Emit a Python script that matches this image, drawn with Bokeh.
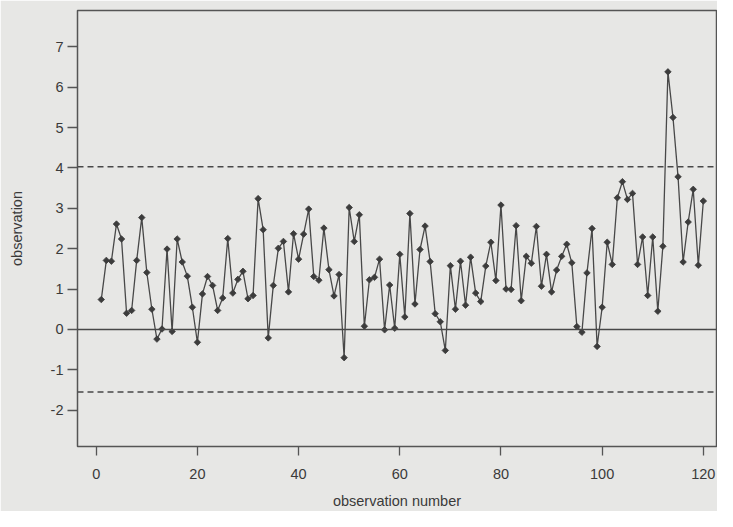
import math
from bokeh.plotting import figure
from bokeh.models import Span, FixedTicker, Range1d
from bokeh.embed import file_html
from bokeh.resources import INLINE

# observation numbers 1..120
obs_number = list(range(1, 121))
observation = [
    0.74, 1.71, 1.69, 2.61, 2.24, 0.40, 0.47, 1.71, 2.77, 1.41,
    0.50, -0.24, 0.01, 1.99, -0.05, 2.24, 1.67, 1.32, 0.55, -0.32,
    0.88, 1.31, 1.09, 0.47, 0.78, 2.25, 0.90, 1.24, 1.44, 0.76,
    0.84, 3.24, 2.47, -0.21, 1.09, 2.01, 2.18, 0.93, 2.37, 1.74,
    2.36, 2.98, 1.31, 1.22, 2.51, 1.48, 0.83, 1.36, -0.70, 3.02,
    2.18, 2.84, 0.08, 1.23, 1.29, 1.74, -0.01, 1.10, 0.03, 1.86,
    0.31, 2.87, 0.63, 1.98, 2.56, 1.68, 0.39, 0.19, -0.52, 1.58,
    0.50, 1.69, 0.60, 1.79, 0.90, 0.69, 1.57, 2.16, 1.21, 3.08,
    1.00, 0.99, 2.57, 0.71, 1.81, 1.64, 2.55, 1.07, 1.86, 0.93,
    1.47, 1.81, 2.11, 1.65, 0.07, -0.07, 1.40, 2.50, -0.42, 0.55,
    2.16, 1.61, 3.26, 3.66, 3.22, 3.37, 1.61, 2.29, 0.84, 2.29,
    0.45, 2.06, 6.38, 5.25, 3.78, 1.67, 2.66, 3.47, 1.59, 3.18,
]
x_ticks = [0, 20, 40, 60, 80, 100, 120]
y_ticks = [-2, -1, 0, 1, 2, 3, 4, 5, 6, 7]
center_line = 0.0
upper_limit = 4.03
lower_limit = -1.55

BG = "#e7e7e5"
INK = "#484848"
TXT = "#3a3a3a"
FONT = "Liberation Sans"

p = figure(width=717, height=511, output_backend="svg", toolbar_location=None,
           x_range=Range1d(-3.7, 122.6), y_range=Range1d(-2.9, 7.9),
           min_border_left=77, min_border_right=1, min_border_top=10,
           min_border_bottom=64)
p.background_fill_color = BG
p.border_fill_color = BG
p.outline_line_color = "#555555"
p.outline_line_width = 1.5
p.grid.visible = False

for ax in (p.xaxis[0], p.yaxis[0]):
    ax.axis_line_color = None
    ax.major_tick_line_color = "#555555"
    ax.major_tick_line_width = 1.3
    ax.minor_tick_line_color = None
    ax.major_tick_in = 0
    ax.major_label_text_font = FONT
    ax.major_label_text_font_size = "14.5px"
    ax.major_label_text_color = TXT
    ax.axis_label_text_font = FONT
    ax.axis_label_text_font_size = "14.5px"
    ax.axis_label_text_font_style = "normal"
    ax.axis_label_text_color = TXT

p.xaxis.ticker = FixedTicker(ticks=x_ticks)
p.yaxis.ticker = FixedTicker(ticks=y_ticks)
p.yaxis.major_label_overrides = {t: str(t) for t in y_ticks}
p.xaxis.major_tick_out = 9
p.yaxis.major_tick_out = 10
p.xaxis.major_label_standoff = 13
p.yaxis.major_label_standoff = 4
p.xaxis.axis_label = "observation number"
p.yaxis.axis_label = "observation"
p.xaxis.axis_label_standoff = 11
p.yaxis.axis_label_standoff = 23

p.add_layout(Span(location=center_line, dimension="width", line_color=INK, line_width=1.5))
p.add_layout(Span(location=upper_limit, dimension="width", line_color=INK, line_width=1.3,
                  line_dash="6 4"))
p.add_layout(Span(location=lower_limit, dimension="width", line_color=INK, line_width=1.3,
                  line_dash="6 4"))

p.line(obs_number, observation, line_color=INK, line_width=1.3)
p.scatter(obs_number, observation, marker="square", size=4.6, angle=math.pi / 4,
          fill_color="#3c3c3c", line_color="#3c3c3c", line_width=0.8)

open("out.html", "w").write(file_html(p, INLINE))
